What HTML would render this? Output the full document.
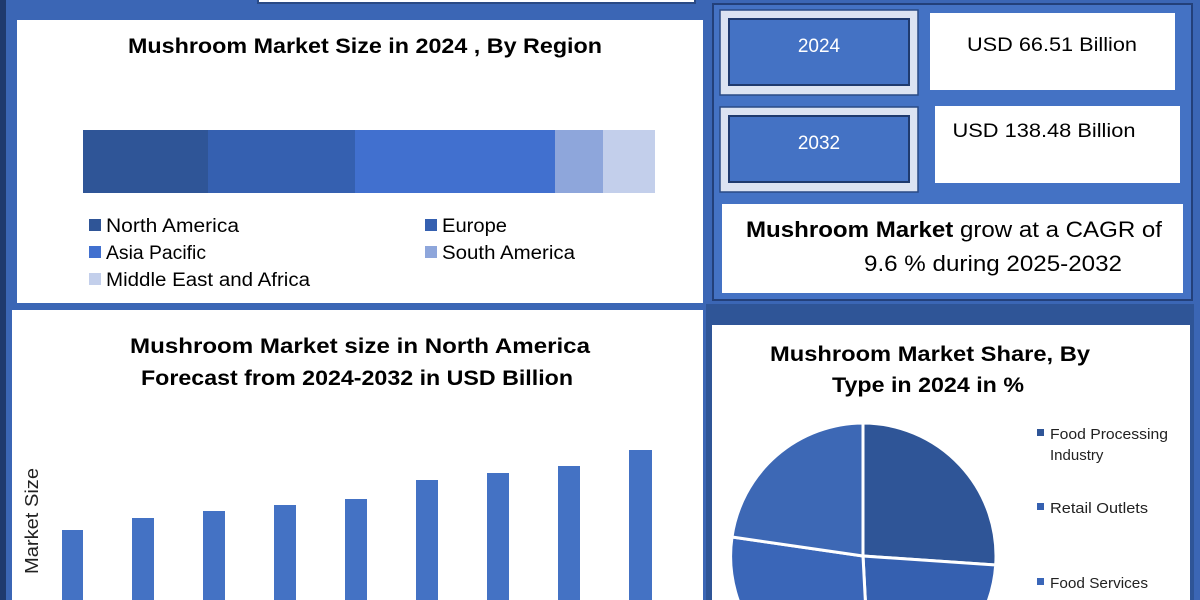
<!DOCTYPE html>
<html><head><meta charset="utf-8"><style>
html,body{margin:0;padding:0;background:#3b66b5;width:1200px;height:600px;overflow:hidden;}
svg{display:block;font-family:"Liberation Sans",sans-serif;}
</style></head><body>
<svg width="1200" height="600" viewBox="0 0 1200 600" xmlns="http://www.w3.org/2000/svg">
<rect x="0" y="0" width="1200" height="600" fill="#3b66b5"/>
<rect x="0" y="0" width="6" height="600" fill="#1f3a6e"/>
<rect x="258" y="-4" width="437" height="7" fill="#fff" stroke="#2a4a85" stroke-width="2"/>
<rect x="17" y="20" width="686" height="283" fill="#fff"/>
<text x="365" y="53" text-anchor="middle" font-size="21" font-weight="bold" textLength="474" lengthAdjust="spacingAndGlyphs">Mushroom Market Size in 2024 , By Region</text>
<rect x="83" y="130" width="125" height="63" fill="#2f5597"/>
<rect x="208" y="130" width="147" height="63" fill="#3560b0"/>
<rect x="355" y="130" width="200" height="63" fill="#4170cf"/>
<rect x="555" y="130" width="48" height="63" fill="#8ea6db"/>
<rect x="603" y="130" width="52" height="63" fill="#c3cfeb"/>
<g font-size="19">
<rect x="89" y="219" width="12" height="12" fill="#2f5597"/><text x="106" y="232" textLength="133" lengthAdjust="spacingAndGlyphs">North America</text>
<rect x="425" y="219" width="12" height="12" fill="#3560b0"/><text x="442" y="232" textLength="65" lengthAdjust="spacingAndGlyphs">Europe</text>
<rect x="89" y="246" width="12" height="12" fill="#4170cf"/><text x="106" y="259" textLength="100" lengthAdjust="spacingAndGlyphs">Asia Pacific</text>
<rect x="425" y="246" width="12" height="12" fill="#8ea6db"/><text x="442" y="259" textLength="133" lengthAdjust="spacingAndGlyphs">South America</text>
<rect x="89" y="273" width="12" height="12" fill="#c3cfeb"/><text x="106" y="286" textLength="204" lengthAdjust="spacingAndGlyphs">Middle East and Africa</text>
</g>
<rect x="713" y="4" width="479" height="296" fill="#4472c4" stroke="#23407a" stroke-width="2"/>
<rect x="720" y="10" width="198" height="85" fill="#dce3f2" stroke="#2a4a85" stroke-width="1.5"/>
<rect x="729" y="19" width="180" height="66" fill="#4472c4" stroke="#1f3a6e" stroke-width="2"/>
<text x="819" y="52" text-anchor="middle" font-size="19" fill="#fff">2024</text>
<rect x="930" y="13" width="245" height="77" fill="#fff"/>
<text x="1052" y="51" text-anchor="middle" font-size="19" textLength="170" lengthAdjust="spacingAndGlyphs">USD 66.51 Billion</text>
<rect x="720" y="107" width="198" height="85" fill="#dce3f2" stroke="#2a4a85" stroke-width="1.5"/>
<rect x="729" y="116" width="180" height="66" fill="#4472c4" stroke="#1f3a6e" stroke-width="2"/>
<text x="819" y="149" text-anchor="middle" font-size="19" fill="#fff">2032</text>
<rect x="935" y="106" width="245" height="77" fill="#fff"/>
<text x="1044" y="137" text-anchor="middle" font-size="19" textLength="183" lengthAdjust="spacingAndGlyphs">USD 138.48 Billion</text>
<rect x="722" y="204" width="461" height="89" fill="#fff"/>
<text x="746" y="237" font-size="22" textLength="416" lengthAdjust="spacingAndGlyphs"><tspan font-weight="bold">Mushroom Market</tspan> grow at a CAGR of</text>
<text x="864" y="271" font-size="22" textLength="258" lengthAdjust="spacingAndGlyphs">9.6 % during 2025-2032</text>
<rect x="12" y="310" width="691" height="290" fill="#fff"/>
<text x="360" y="353" text-anchor="middle" font-size="21" font-weight="bold" textLength="460" lengthAdjust="spacingAndGlyphs">Mushroom Market  size in North America</text>
<text x="357" y="385" text-anchor="middle" font-size="21" font-weight="bold" textLength="432" lengthAdjust="spacingAndGlyphs">Forecast from 2024-2032 in USD Billion</text>
<text transform="translate(38,574) rotate(-90)" font-size="18" textLength="106" lengthAdjust="spacingAndGlyphs" fill="#222">Market Size</text>
<g fill="#4472c4">
<rect x="62" y="530" width="21" height="70"/>
<rect x="132" y="518" width="22" height="82"/>
<rect x="203" y="511" width="22" height="89"/>
<rect x="274" y="505" width="22" height="95"/>
<rect x="345" y="499" width="22" height="101"/>
<rect x="416" y="480" width="22" height="120"/>
<rect x="487" y="473" width="22" height="127"/>
<rect x="558" y="466" width="22" height="134"/>
<rect x="629" y="450" width="23" height="150"/>
</g>
<rect x="706" y="304" width="488" height="296" fill="#2f5597"/>
<rect x="712" y="325" width="478" height="275" fill="#fff"/>
<text x="930" y="361" text-anchor="middle" font-size="21" font-weight="bold" textLength="320" lengthAdjust="spacingAndGlyphs">Mushroom Market Share, By</text>
<text x="928" y="392" text-anchor="middle" font-size="21" font-weight="bold" textLength="192" lengthAdjust="spacingAndGlyphs">Type in 2024 in %</text>
<clipPath id="c"><rect x="712" y="325" width="478" height="275"/></clipPath>
<g stroke="#fff" stroke-width="3" clip-path="url(#c)">
<path d="M863,556 L863,423 A133,133 0 0 1 995.7,565 Z" fill="#2f5597"/>
<path d="M863,556 L995.7,565 A133,133 0 0 1 870,689 Z" fill="#3560b0"/>
<path d="M863,556 L870,689 A133,133 0 0 1 732,537 Z" fill="#3a66b8"/>
<path d="M863,556 L732,537 A133,133 0 0 1 863,423 Z" fill="#3d68b5"/>
</g>
<g font-size="15" fill="#222">
<rect x="1037" y="429" width="7" height="7" fill="#2f5597"/><text x="1050" y="439" textLength="118" lengthAdjust="spacingAndGlyphs">Food Processing</text>
<text x="1050" y="460">Industry</text>
<rect x="1037" y="503" width="7" height="7" fill="#3560b0"/><text x="1050" y="513" textLength="98" lengthAdjust="spacingAndGlyphs">Retail Outlets</text>
<rect x="1037" y="578" width="7" height="7" fill="#3a66b8"/><text x="1050" y="588" textLength="98" lengthAdjust="spacingAndGlyphs">Food Services</text>
</g>
</svg>
</body></html>
